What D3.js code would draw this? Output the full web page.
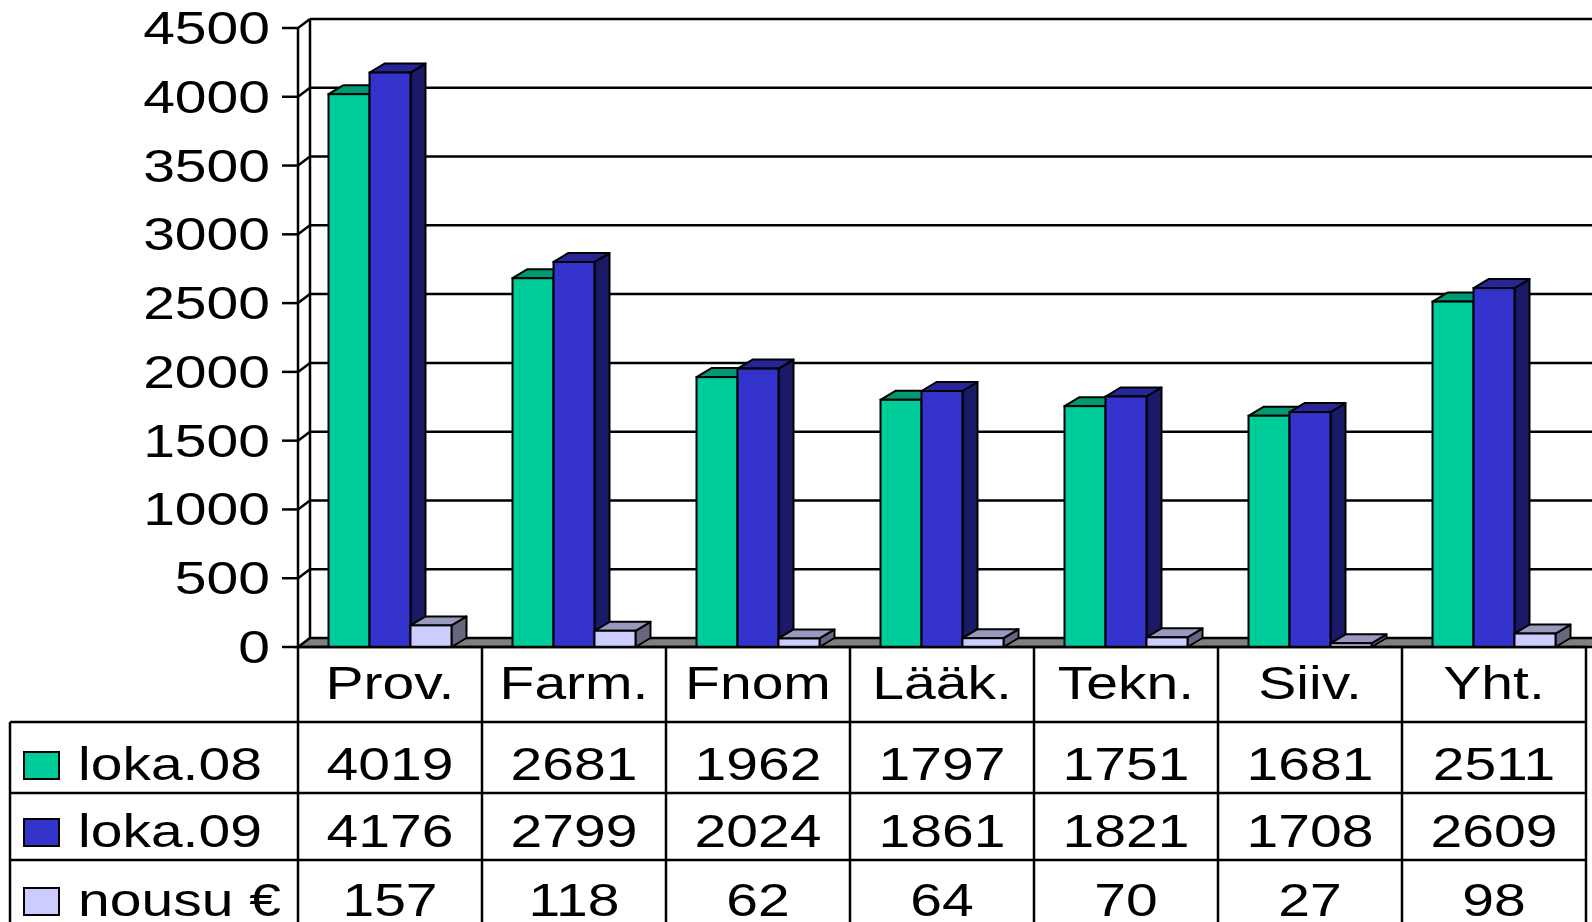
<!DOCTYPE html>
<html><head><meta charset="utf-8">
<script src="https://cdn.jsdelivr.net/npm/d3@7"></script>
<style>body{margin:0;background:#fff;overflow:hidden}svg{display:block}text{font-family:"Liberation Sans",Arial,sans-serif;fill:#000}</style>
</head><body>
<svg id="c" width="1592" height="922"></svg>
<script>
const categories = ["Prov.","Farm.","Fnom","Lääk.","Tekn.","Siiv.","Yht."];
const seriesNames = ["loka.08","loka.09","nousu €"];
const loka08 = [4019,2681,1962,1797,1751,1681,2511];
const loka09 = [4176,2799,2024,1861,1821,1708,2609];
const nousu  = [157,118,62,64,70,27,98];
const yTicks = [0,500,1000,1500,2000,2500,3000,3500,4000,4500];
const seriesValues = [loka08, loka09, nousu];
const frontColors = ["#00CC99","#3333CC","#CCCCFF"];
const topColors   = ["#009973","#262699","#9999BF"];
const sideColors  = ["#00664D","#1A1A66","#666680"];

const svg = d3.select("#c");
const X0 = 298, X1 = 1586, Y0 = 647, YTOP = 28;
const WDX = 12, WDY = 9;     // wall depth
const BDX = 15, BDY = 9;     // bar depth
const SX = 1.24, FS = 46;

const y = d3.scaleLinear().domain([0,4500]).range([Y0, YTOP]);
const x = d3.scaleBand().domain(categories).range([X0, X1]);
const groupW = 123;
const x1 = d3.scaleBand().domain(seriesNames).range([0, groupW]);

function stext(g, txt, tx, ty, anchor){
  return g.append("text").attr("transform",`translate(${tx},${ty}) scale(${SX},1)`)
    .attr("text-anchor",anchor).style("font-size",FS+"px").text(txt);
}

// back wall gridlines
const grid = svg.append("g");
yTicks.forEach(t=>{
  if(t===0) return;
  grid.append("line").attr("x1",X0+WDX).attr("x2",1600).attr("y1",y(t)-WDY).attr("y2",y(t)-WDY)
    .attr("stroke","#000").attr("stroke-width",2.5);
  grid.append("line").attr("x1",X0).attr("x2",X0+WDX).attr("y1",y(t)).attr("y2",y(t)-WDY)
    .attr("stroke","#000").attr("stroke-width",2.5);
});
// back wall left edge
grid.append("line").attr("x1",X0+WDX).attr("x2",X0+WDX).attr("y1",y(4500)-WDY).attr("y2",Y0-WDY)
  .attr("stroke","#000").attr("stroke-width",2.5);

// floor
svg.append("polygon")
  .attr("points",[[X0,Y0],[X0+WDX,Y0-WDY],[1610,Y0-WDY],[1600,Y0]].map(p=>p.join(",")).join(" "))
  .attr("fill","#808080").attr("stroke","#000").attr("stroke-width",2.5);

// front axis & ticks
const ax = svg.append("g");
ax.append("line").attr("x1",X0).attr("x2",X0).attr("y1",y(4500)).attr("y2",922)
  .attr("stroke","#000").attr("stroke-width",2.5);
yTicks.forEach(t=>{
  ax.append("line").attr("x1",282).attr("x2",X0).attr("y1",y(t)).attr("y2",y(t))
    .attr("stroke","#000").attr("stroke-width",2.5);
  stext(ax, String(t), 270, y(t)+16, "end");
});

// bars
const bars = svg.append("g");
categories.forEach((c,i)=>{
  const gx = x(c) + (x.bandwidth()-groupW)/2;
  seriesNames.forEach((s,j)=>{
    const v = seriesValues[j][i];
    const bx = gx + x1(s), bw = x1.bandwidth(), yt = y(v), yb = y(0);
    const pts = a=>a.map(p=>p.join(",")).join(" ");
    bars.append("polygon").attr("points",pts([[bx+bw,yt],[bx+bw+BDX,yt-BDY],[bx+bw+BDX,yb-BDY],[bx+bw,yb]]))
      .attr("fill",sideColors[j]).attr("stroke","#000").attr("stroke-width",2).attr("stroke-linejoin","round");
    bars.append("polygon").attr("points",pts([[bx,yt],[bx+BDX,yt-BDY],[bx+bw+BDX,yt-BDY],[bx+bw,yt]]))
      .attr("fill",topColors[j]).attr("stroke","#000").attr("stroke-width",2).attr("stroke-linejoin","round");
    bars.append("rect").attr("x",bx).attr("y",yt).attr("width",bw).attr("height",yb-yt)
      .attr("fill",frontColors[j]).attr("stroke","#000").attr("stroke-width",2);
  });
});

// data table
const tb = svg.append("g");
const rowY = [647,722,793,860,935];
const ln = (a,b,c,d)=>tb.append("line").attr("x1",a).attr("y1",b).attr("x2",c).attr("y2",d)
  .attr("stroke","#000").attr("stroke-width",2.5);
ln(X0,Y0,X1,Y0);
for(let r=1;r<4;r++) ln(10,rowY[r],X1,rowY[r]);
ln(10,rowY[1],10,922);
categories.forEach((c,i)=>{ ln(x(c)+x.bandwidth(),Y0,x(c)+x.bandwidth(),922); });

const baseY = [699,780,847,916];
categories.forEach((c,i)=>{
  const cx = x(c)+x.bandwidth()/2;
  stext(tb, c, cx, baseY[0], "middle");
  seriesValues.forEach((arr,j)=> stext(tb, String(arr[i]), cx, baseY[j+1], "middle"));
});
seriesNames.forEach((s,j)=>{
  const sy = baseY[j+1]-28;
  tb.append("rect").attr("x",24).attr("y",sy).attr("width",35).attr("height",27)
    .attr("fill",frontColors[j]).attr("stroke","#000").attr("stroke-width",2);
  stext(tb, s, 78, baseY[j+1], "start");
});
</script>
</body></html>
